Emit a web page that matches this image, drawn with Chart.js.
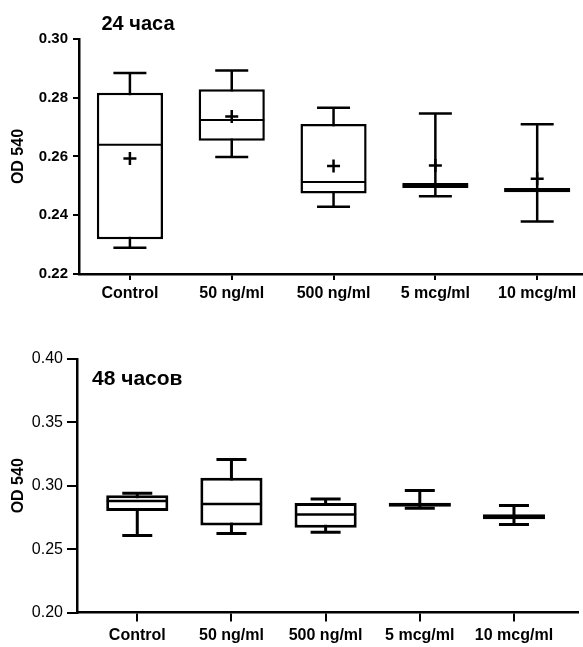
<!DOCTYPE html>
<html>
<head>
<meta charset="utf-8">
<script src="https://cdn.jsdelivr.net/npm/chart.js@4.4.1/dist/chart.umd.min.js"></script>
<style>
  html, body { margin: 0; padding: 0; background: #fff; }
  #wrap { position: relative; width: 583px; height: 647px; }
  canvas { position: absolute; left: 0; }
  #c24 { top: 0; }
  #c48 { top: 320px; }
</style>
</head>
<body>
<div id="wrap">
  <canvas id="c24" width="583" height="320"></canvas>
  <canvas id="c48" width="583" height="327"></canvas>
</div>
<script>
// groups on the x axis
var CATS = ['Control', '50 ng/ml', '500 ng/ml', '5 mcg/ml', '10 mcg/ml'];

// 24 h: box-and-whisker values
var MIN_24  = [0.2289, 0.2598, 0.2429, 0.2465, 0.2379];
var Q1_24   = [0.2318, 0.2654, 0.2474, 0.2493, 0.2478];
var MED_24  = [0.2640, 0.2724, 0.2513, 0.2501, 0.2485];
var Q3_24   = [0.2817, 0.2829, 0.2711, 0.2510, 0.2493];
var MAX_24  = [0.2884, 0.2893, 0.2766, 0.2746, 0.2710];
var MEAN_24 = [0.2593, 0.2736, 0.2568, 0.2569, 0.2524];

// 48 h (no means drawn)
var MIN_48 = [0.2608, 0.2624, 0.2634, 0.2822, 0.2695];
var Q1_48  = [0.2800, 0.2687, 0.2669, 0.2834, 0.2735];
var MED_48 = [0.2880, 0.2856, 0.2774, 0.2850, 0.2756];
var Q3_48  = [0.2925, 0.3063, 0.2863, 0.2866, 0.2776];
var MAX_48 = [0.2940, 0.3208, 0.2895, 0.2963, 0.2845];

var Y_TICKS_24 = { min: 0.22, max: 0.30, step: 0.02 };
var Y_TICKS_48 = { min: 0.20, max: 0.40, step: 0.05 };

var FONT = "'Liberation Sans', Arial, sans-serif";
Chart.defaults.font.family = FONT;
Chart.defaults.color = '#000';

// panel caption ("24 часа" / "48 часов")
var panelTitle = {
  id: 'panelTitle',
  afterDraw: function (chart, args, o) {
    var ctx = chart.ctx;
    ctx.save();
    ctx.font = 'bold ' + o.size + 'px ' + FONT;
    ctx.fillStyle = '#000';
    ctx.textAlign = o.align;
    ctx.textBaseline = 'alphabetic';
    ctx.fillText(o.text, o.x, o.y);
    ctx.restore();
  }
};

function pts(arr) {
  return arr.map(function (v, i) { return { x: i, y: v }; });
}

// keep the plot area where the figure has it (no label overflow padding)
function noPad(s) {
  s.paddingLeft = 0; s.paddingRight = 0; s.paddingTop = 0; s.paddingBottom = 0;
}

function boxChart(el, d, cfg) {
  var datasets = [
    { // whisker stems
      type: 'bar', order: 5, grouped: false,
      data: CATS.map(function (c, i) { return { x: i, y: [d.min[i], d.max[i]] }; }),
      backgroundColor: '#000', maxBarThickness: cfg.lw
    },
    { // boxes
      type: 'bar', order: 4, grouped: false,
      data: CATS.map(function (c, i) { return { x: i, y: [d.q1[i], d.q3[i]] }; }),
      backgroundColor: '#fff', borderColor: '#000', borderWidth: cfg.lw, borderSkipped: false,
      barPercentage: cfg.boxPct, categoryPercentage: 1
    },
    { // medians
      type: 'scatter', order: 3, data: pts(d.med),
      pointStyle: 'line', pointRadius: cfg.medR, pointBorderWidth: cfg.medW, pointBorderColor: '#000'
    },
    { // whisker caps
      type: 'scatter', order: 2, data: pts(d.min).concat(pts(d.max)),
      pointStyle: 'line', pointRadius: cfg.capR, pointBorderWidth: cfg.lw, pointBorderColor: '#000'
    }
  ];
  if (d.mean) {
    datasets.push({
      type: 'scatter', order: 1, data: pts(d.mean),
      pointStyle: 'cross', pointRadius: 6.5, pointBorderWidth: 2.5, pointBorderColor: '#000'
    });
  }

  return new Chart(el, {
    type: 'bar',
    data: { datasets: datasets },
    plugins: [panelTitle],
    options: {
      responsive: false, animation: false,
      layout: { padding: cfg.pad, autoPadding: false },
      plugins: {
        legend: { display: false },
        tooltip: { enabled: false },
        panelTitle: cfg.title
      },
      scales: {
        x: {
          type: 'linear', min: cfg.xMin, max: cfg.xMax, offset: false,
          afterBuildTicks: function (s) { s.ticks = CATS.map(function (c, i) { return { value: i }; }); },
          afterFit: function (s) { s.height = cfg.xH; noPad(s); },
          grid: { offset: false, drawOnChartArea: false, color: '#000', lineWidth: 2, tickLength: cfg.xTick },
          border: { color: '#000', width: 2.5 },
          ticks: {
            autoSkip: false, maxRotation: 0, padding: cfg.xPadT, color: '#000',
            font: { size: 16, weight: 'bold' },
            callback: function (v) { return CATS[v]; }
          }
        },
        y: {
          min: cfg.y.min, max: cfg.y.max,
          afterFit: function (s) { s.width = cfg.yW; noPad(s); },
          grid: { drawOnChartArea: false, color: '#000', lineWidth: 2, tickLength: cfg.yTick },
          border: { color: '#000', width: 2.5 },
          ticks: {
            stepSize: cfg.y.step, padding: cfg.yPadT, color: '#000', font: cfg.yFont,
            callback: function (v) { return v.toFixed(2); }
          },
          title: {
            display: true, text: 'OD 540', color: '#000',
            font: { size: 16, weight: 'bold' }, padding: { top: 9, bottom: 0 }
          }
        }
      }
    }
  });
}

boxChart(document.getElementById('c24'),
  { min: MIN_24, q1: Q1_24, med: MED_24, q3: Q3_24, max: MAX_24, mean: MEAN_24 },
  {
    y: Y_TICKS_24, yFont: { size: 15, weight: 'bold' },
    pad: { top: 39, right: 0, bottom: 0, left: 0 },
    xMin: -0.5, xMax: 4.45, xH: 46, xTick: 6, xPadT: 4, yW: 79, yTick: 6, yPadT: 5,
    boxPct: 0.65, medR: 32.5, capR: 16.5, lw: 2.5, medW: 2,
    title: { text: '24 часа', x: 138, y: 30, align: 'center', size: 20 }
  });

boxChart(document.getElementById('c48'),
  { min: MIN_48, q1: Q1_48, med: MED_48, q3: Q3_48, max: MAX_48 },
  {
    y: Y_TICKS_48, yFont: { size: 16 },
    pad: { top: 39, right: 5, bottom: 0, left: 0 },
    xMin: -0.64, xMax: 4.68, xH: 34.5, xTick: 9, xPadT: 4, yW: 77, yTick: 10, yPadT: 4,
    boxPct: 0.66, medR: 30.5, capR: 15, lw: 3, medW: 2.5,
    title: { text: '48 часов', x: 92, y: 65, align: 'left', size: 21 }
  });
</script>
</body>
</html>
